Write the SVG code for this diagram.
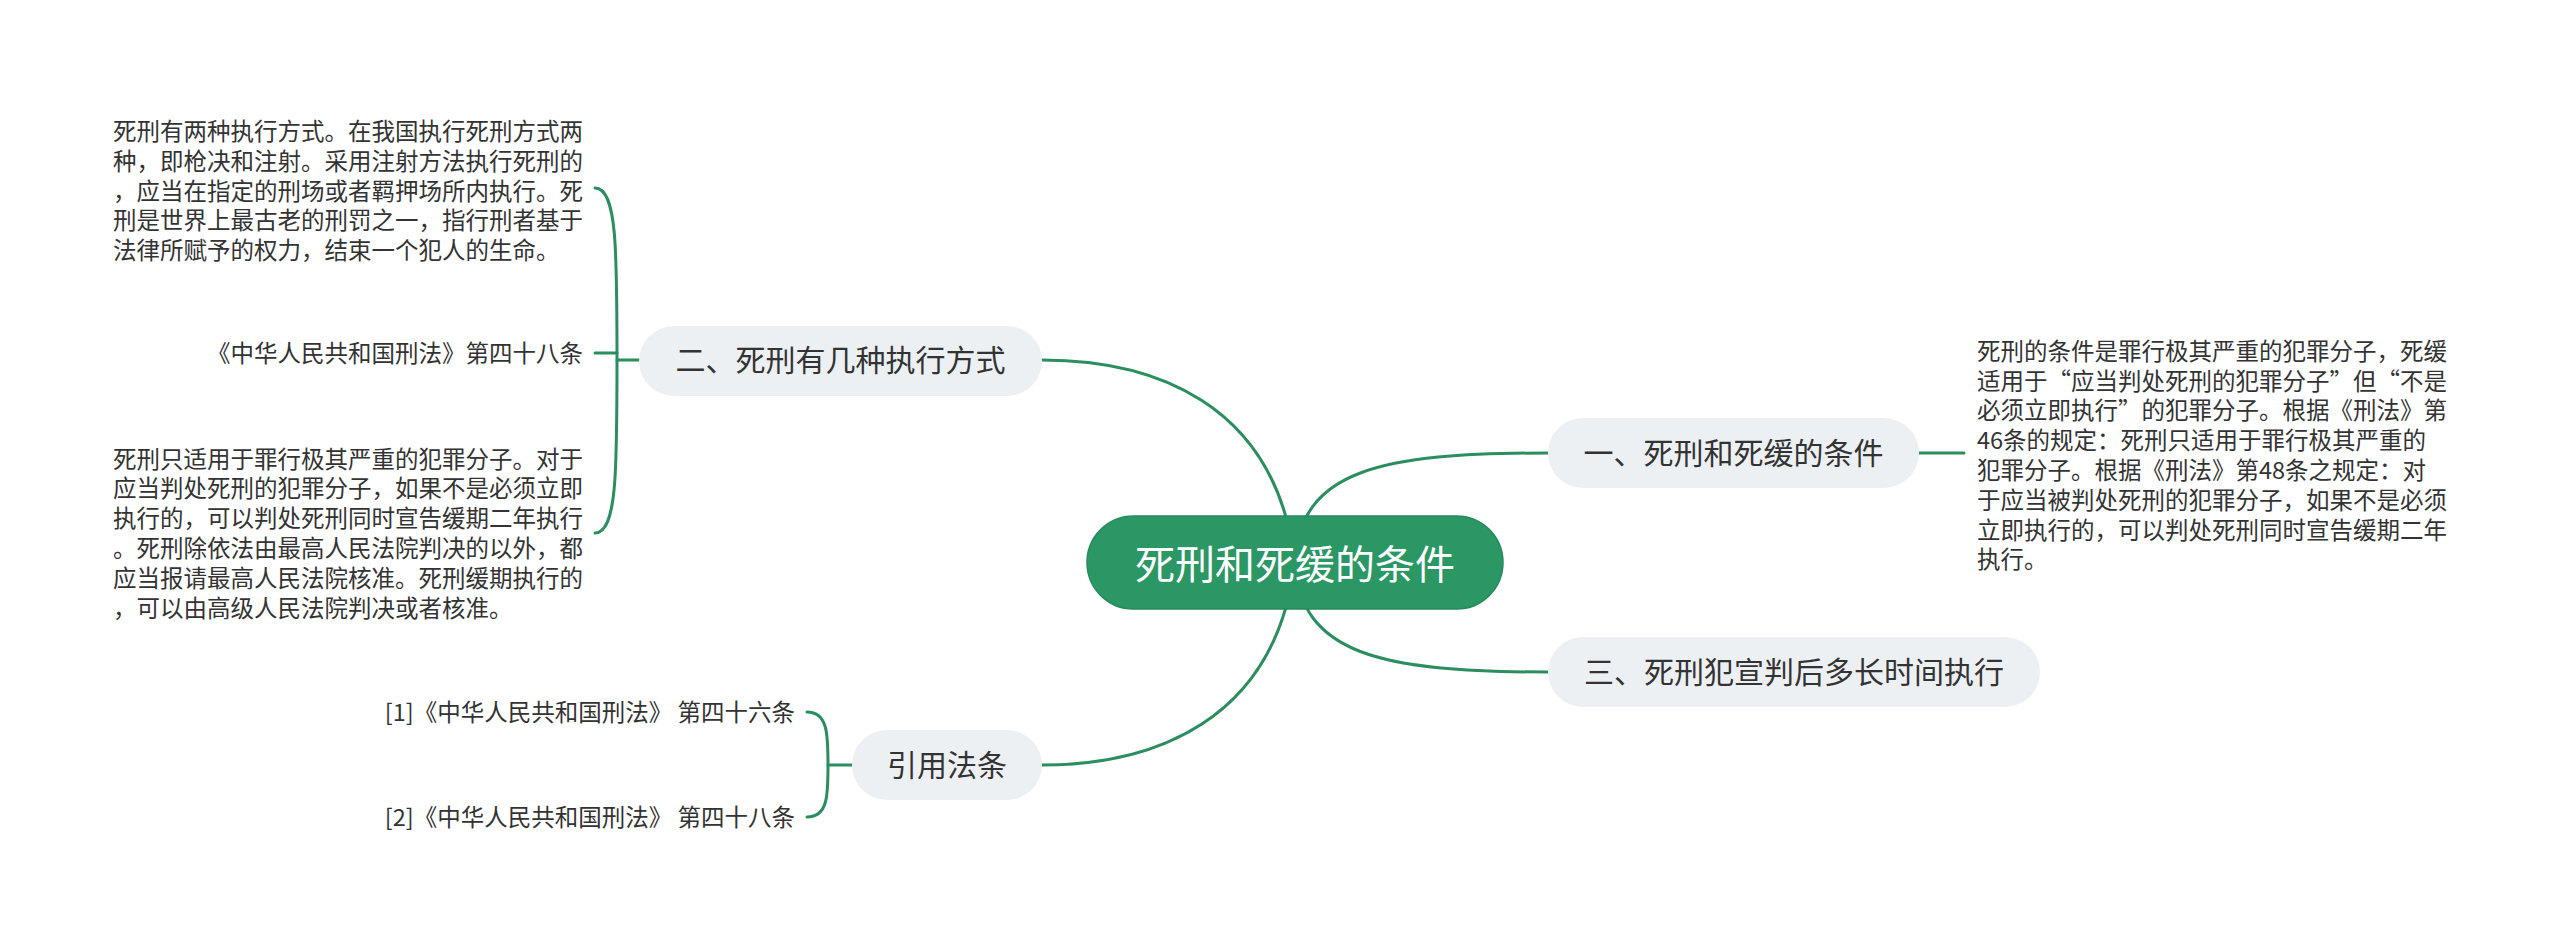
<svg xmlns="http://www.w3.org/2000/svg" width="2560" height="945" viewBox="0 0 2560 945">
<style>
.bg{fill:#ffffff}
.conn{fill:none;stroke:#2a8e5f;stroke-width:3;stroke-linecap:round}
.root{fill:#2a9765;stroke:#268a5c;stroke-width:1.5}
.sub{fill:#edf0f3}
.t{font-family:"Noto Sans CJK SC","Noto Sans",sans-serif;fill:#333333}
.rt{font-family:"Noto Sans CJK SC","Noto Sans",sans-serif;fill:#ffffff;font-size:40px}
.nt{font-size:30px}
.pt{font-size:23.5px}
</style>
<rect class="bg" x="0" y="0" width="2560" height="945"/>
<g id="connectors">
<path class="conn" d="M1295,562 C1275,400 1150,360 1042,360"/>
<path class="conn" d="M1295,562 C1275,724 1150,765 1042,765"/>
<path class="conn" d="M1295,562 C1300,470 1380,453 1548,453"/>
<path class="conn" d="M1295,562 C1300,654 1380,672 1548,672"/>
<path class="conn" d="M595,188 C617,188 617,250 617,360 C617,470 617,533 595,533"/>
<path class="conn" d="M595,353 L617,353"/>
<path class="conn" d="M617,360 L639,360"/>
<path class="conn" d="M807,712 C828,712 828,735 828,765 C828,795 828,817 807,817"/>
<path class="conn" d="M828,765 L852,765"/>
<path class="conn" d="M1919,453 L1964,453"/>
</g>
<g id="root">
<rect class="root" x="1087" y="516" width="416" height="93" rx="46.5"/>
<text class="rt" x="1295" y="579" text-anchor="middle">死刑和死缓的条件</text>
</g>
<g id="node-1">
<rect class="sub" x="1548" y="418" width="371" height="70" rx="35"/>
<text class="t nt" x="1733.5" y="464" text-anchor="middle">一、死刑和死缓的条件</text>
</g>
<g id="node-1-detail">
<text class="t pt" x="1977" y="359.7">
<tspan x="1977">死刑的条件是罪行极其严重的犯罪分子，死缓</tspan>
<tspan x="1977" dy="29.8">适用于“应当判处死刑的犯罪分子”但“不是</tspan>
<tspan x="1977" dy="29.8">必须立即执行”的犯罪分子。根据《刑法》第</tspan>
<tspan x="1977" dy="29.8">46条的规定：死刑只适用于罪行极其严重的</tspan>
<tspan x="1977" dy="29.8">犯罪分子。根据《刑法》第48条之规定：对</tspan>
<tspan x="1977" dy="29.8">于应当被判处死刑的犯罪分子，如果不是必须</tspan>
<tspan x="1977" dy="29.8">立即执行的，可以判处死刑同时宣告缓期二年</tspan>
<tspan x="1977" dy="29.8">执行。</tspan>
</text>
</g>
<g id="node-2">
<rect class="sub" x="639" y="326" width="403" height="70" rx="35"/>
<text class="t nt" x="840.5" y="371" text-anchor="middle">二、死刑有几种执行方式</text>
</g>
<g id="node-2-a">
<text class="t pt" x="113" y="140">
<tspan x="113">死刑有两种执行方式。在我国执行死刑方式两</tspan>
<tspan x="113" dy="29.8">种，即枪决和注射。采用注射方法执行死刑的</tspan>
<tspan x="113" dy="29.8">，应当在指定的刑场或者羁押场所内执行。死</tspan>
<tspan x="113" dy="29.8">刑是世界上最古老的刑罚之一，指行刑者基于</tspan>
<tspan x="113" dy="29.8">法律所赋予的权力，结束一个犯人的生命。</tspan>
</text>
</g>
<g id="node-2-b">
<text class="t pt" x="583" y="362" text-anchor="end">《中华人民共和国刑法》第四十八条</text>
</g>
<g id="node-2-c">
<text class="t pt" x="113" y="467.5">
<tspan x="113">死刑只适用于罪行极其严重的犯罪分子。对于</tspan>
<tspan x="113" dy="29.8">应当判处死刑的犯罪分子，如果不是必须立即</tspan>
<tspan x="113" dy="29.8">执行的，可以判处死刑同时宣告缓期二年执行</tspan>
<tspan x="113" dy="29.8">。死刑除依法由最高人民法院判决的以外，都</tspan>
<tspan x="113" dy="29.8">应当报请最高人民法院核准。死刑缓期执行的</tspan>
<tspan x="113" dy="29.8">，可以由高级人民法院判决或者核准。</tspan>
</text>
</g>
<g id="node-3">
<rect class="sub" x="1548" y="637" width="492" height="70" rx="35"/>
<text class="t nt" x="1794" y="683" text-anchor="middle">三、死刑犯宣判后多长时间执行</text>
</g>
<g id="node-4">
<rect class="sub" x="852" y="730" width="190" height="70" rx="35"/>
<text class="t nt" x="947" y="776" text-anchor="middle">引用法条</text>
</g>
<g id="node-4-a">
<text class="t pt" x="795" y="721" text-anchor="end">[1]《中华人民共和国刑法》 第四十六条</text>
</g>
<g id="node-4-b">
<text class="t pt" x="795" y="826" text-anchor="end">[2]《中华人民共和国刑法》 第四十八条</text>
</g>
</svg>
